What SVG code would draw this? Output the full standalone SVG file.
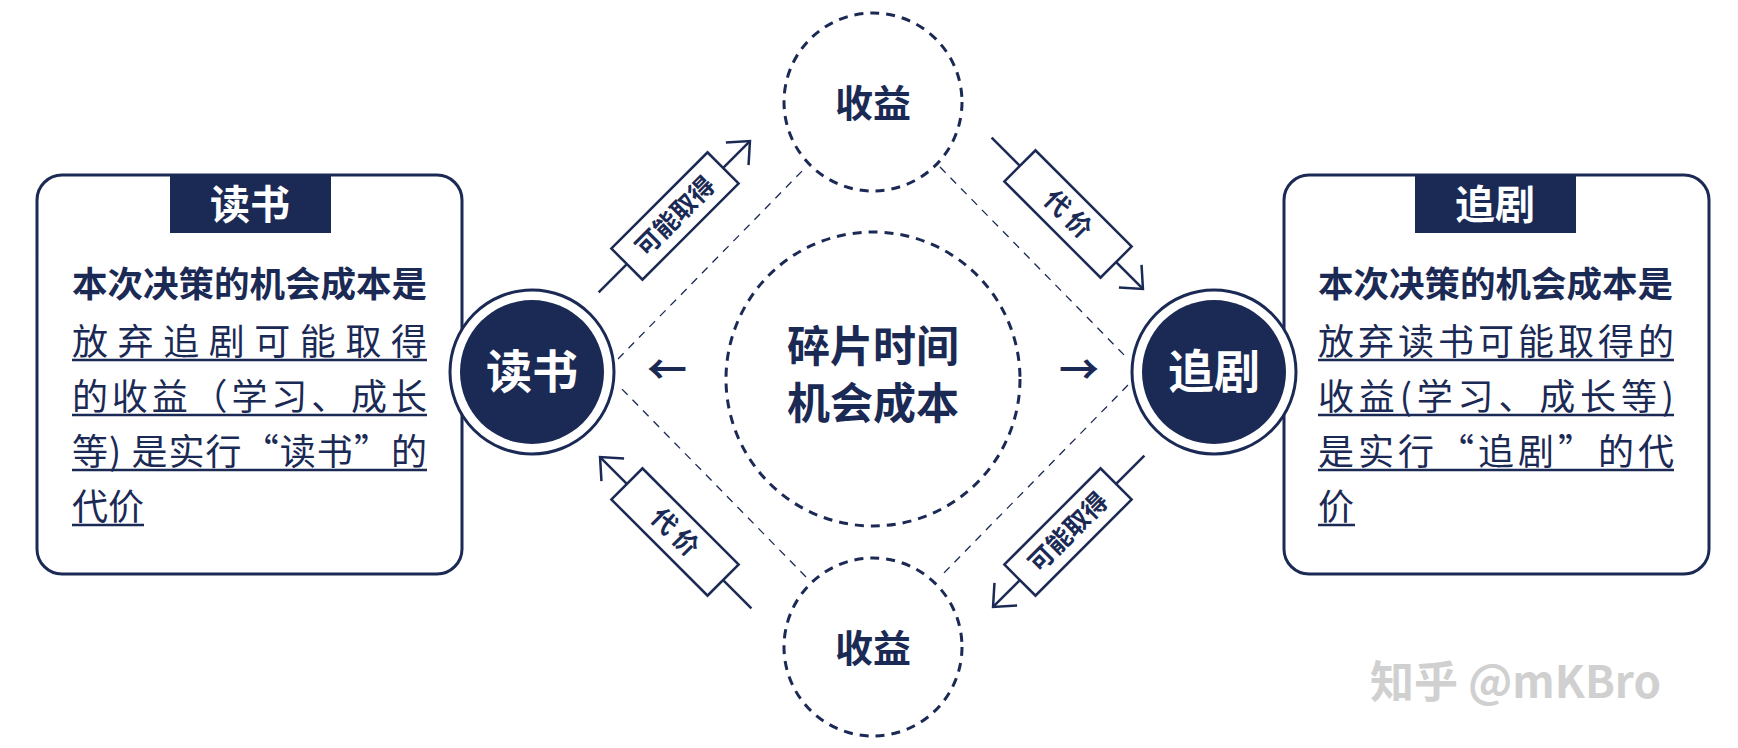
<svg xmlns="http://www.w3.org/2000/svg" width="1738" height="748" viewBox="0 0 1738 748">
<style>
.t{font-family:"Noto Sans CJK SC","Noto Sans",sans-serif;fill:#1b2a55}
.b{font-weight:bold}
.w{fill:#fff;font-weight:bold}
.lt{font-size:25px;font-weight:bold}
.box{fill:#fff;stroke:#1b2a55;stroke-width:3}
.tab{fill:#1b2a55}
.ul{stroke:#1b2a55;stroke-width:2.5}
.dc{fill:#fff;stroke:#1b2a55;stroke-width:3;stroke-dasharray:9 7}
.dl{stroke:#1b2a55;stroke-width:1.3;stroke-dasharray:8 7;fill:none}
.ar{stroke:#1b2a55;stroke-width:2.5;fill:none}
.lb{fill:#fff;stroke:#1b2a55;stroke-width:2.5}
</style>
<defs>
<g id="arrow">
<line class="ar" x1="-108" y1="0" x2="106" y2="0"/>
<polyline class="ar" points="88,-16 106,0 88,16"/>
<rect class="lb" x="-68" y="-22" width="136" height="44"/>
</g>
</defs>
<g id="connectors">
<line class="dl" x1="618" y1="359" x2="806" y2="167"/>
<line class="dl" x1="940" y1="167" x2="1128" y2="359"/>
<line class="dl" x1="1128" y1="385" x2="940" y2="577"/>
<line class="dl" x1="806" y1="577" x2="618" y2="385"/>
<g transform="translate(675,216) rotate(-45)"><use href="#arrow"/><text class="t lt" x="0" y="9" text-anchor="middle">可能取得</text></g>
<g transform="translate(1068,214) rotate(45)"><use href="#arrow"/><text class="t lt" x="0" y="9" text-anchor="middle">代  价</text></g>
<g transform="translate(675,532) rotate(45)"><use href="#arrow" transform="scale(-1,1)"/><text class="t lt" x="0" y="9" text-anchor="middle">代  价</text></g>
<g transform="translate(1068,532) rotate(-45)"><use href="#arrow" transform="scale(-1,1)"/><text class="t lt" x="0" y="9" text-anchor="middle">可能取得</text></g>
<text class="t b" x="667" y="384" font-size="40" text-anchor="middle" fill="#111">←</text>
<text class="t b" x="1079" y="384" font-size="40" text-anchor="middle" fill="#111">→</text>
</g>
<g id="top-gain"><circle class="dc" cx="873" cy="102" r="89"/><text class="t b" x="873" y="117" font-size="38" text-anchor="middle">收益</text></g>
<g id="bottom-gain"><circle class="dc" cx="873" cy="647" r="89"/><text class="t b" x="873" y="662" font-size="38" text-anchor="middle">收益</text></g>
<g id="center"><circle class="dc" cx="873" cy="379" r="147"/>
<text class="t b" x="873" y="362" font-size="43" text-anchor="middle">碎片时间</text>
<text class="t b" x="873" y="419" font-size="43" text-anchor="middle">机会成本</text></g>
<g id="left-box">
<rect class="box" x="37" y="175" width="425" height="399" rx="25"/>
<rect class="tab" x="170" y="175" width="161" height="58"/>
<text class="t w" x="250" y="219" font-size="40" text-anchor="middle">读书</text>
<text class="t b" x="72" y="297" font-size="35" textLength="355" lengthAdjust="spacingAndGlyphs">本次决策的机会成本是</text>
<text class="t" x="72" y="355" font-size="36" textLength="355" lengthAdjust="spacing">放弃追剧可能取得</text>
<text class="t" x="72" y="410" font-size="36" textLength="355" lengthAdjust="spacing">的收益（学习、成长</text>
<text class="t" x="72" y="465" font-size="36" textLength="355" lengthAdjust="spacing">等) 是实行“读书”的</text>
<text class="t" x="72" y="520" font-size="36">代价</text>
<line class="ul" x1="72" y1="360" x2="427" y2="360"/>
<line class="ul" x1="72" y1="415" x2="427" y2="415"/>
<line class="ul" x1="72" y1="470" x2="427" y2="470"/>
<line class="ul" x1="72" y1="525" x2="144" y2="525"/>
</g>
<g id="right-box">
<rect class="box" x="1284" y="175" width="425" height="399" rx="25"/>
<rect class="tab" x="1415" y="175" width="161" height="58"/>
<text class="t w" x="1495" y="219" font-size="40" text-anchor="middle">追剧</text>
<text class="t b" x="1318" y="297" font-size="35" textLength="355" lengthAdjust="spacingAndGlyphs">本次决策的机会成本是</text>
<text class="t" x="1318" y="355" font-size="36" textLength="356" lengthAdjust="spacing">放弃读书可能取得的</text>
<text class="t" x="1318" y="410" font-size="36" textLength="356" lengthAdjust="spacing">收益(学习、成长等)</text>
<text class="t" x="1318" y="465" font-size="36" textLength="356" lengthAdjust="spacing">是实行“追剧”的代</text>
<text class="t" x="1318" y="520" font-size="36">价</text>
<line class="ul" x1="1318" y1="360" x2="1674" y2="360"/>
<line class="ul" x1="1318" y1="415" x2="1674" y2="415"/>
<line class="ul" x1="1318" y1="470" x2="1674" y2="470"/>
<line class="ul" x1="1318" y1="525" x2="1355" y2="525"/>
</g>
<g id="left-node"><circle cx="532" cy="372" r="82" fill="#fff" stroke="#1b2a55" stroke-width="3"/><circle cx="532" cy="372" r="72" fill="#1b2a55"/><text class="t w" x="532" y="388" font-size="46" text-anchor="middle">读书</text></g>
<g id="right-node"><circle cx="1214" cy="372" r="82" fill="#fff" stroke="#1b2a55" stroke-width="3"/><circle cx="1214" cy="372" r="72" fill="#1b2a55"/><text class="t w" x="1214" y="388" font-size="46" text-anchor="middle">追剧</text></g>
<text x="1370" y="698" font-size="44" font-family="Noto Sans CJK SC,sans-serif" fill="#d0d0d0" font-weight="bold">知乎 @mKBro</text>
</svg>
